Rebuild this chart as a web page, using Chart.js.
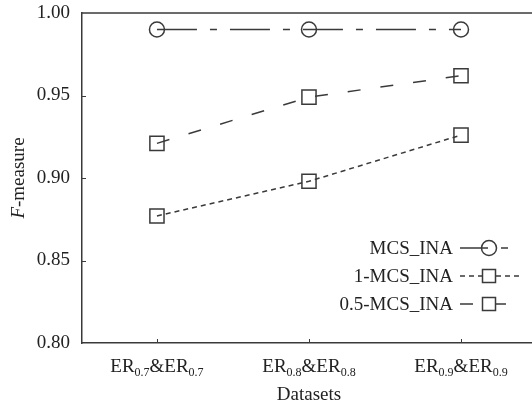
<!DOCTYPE html>
<html>
<head>
<meta charset="utf-8">
<script src="https://cdn.jsdelivr.net/npm/chart.js@4/dist/chart.umd.min.js"></script>
<style>
  html, body { margin: 0; padding: 0; background: #fff; }
  #wrap { width: 532px; height: 407px; }
</style>
</head>
<body>
<div id="wrap"><canvas id="chart" width="532" height="407"></canvas></div>
<script>
// data
const datasetsCat = [
  { base: 'ER', sub: '0.7' },
  { base: 'ER', sub: '0.8' },
  { base: 'ER', sub: '0.9' }
];
const seriesNames = ['MCS_INA', '1-MCS_INA', '0.5-MCS_INA'];
const mcsIna = [0.990, 0.990, 0.990];
const mcsIna1 = [0.877, 0.898, 0.926];
const mcsIna05 = [0.921, 0.949, 0.962];
const yTicks = [0.80, 0.85, 0.90, 0.95, 1.00];

const INK = '#3a3a3a';
const TXT = '#222';
const SERIF = '"Liberation Serif", "Times New Roman", serif';

const styles = [
  { dash: [40, 13, 7, 13], point: 'circle', radius: 7.5 },
  { dash: [5, 4], point: 'rect', radius: 10 },
  { dash: [13, 20], point: 'rect', radius: 10 }
];
const seriesData = [mcsIna, mcsIna1, mcsIna05];

const toXY = arr => arr.map((v, i) => ({ x: i, y: v }));

// axes, inner ticks, subscript labels, titles, legend
const decorations = {
  id: 'decorations',
  afterDraw(chart) {
    const { ctx, chartArea: a, scales: { x, y } } = chart;
    ctx.save();
    ctx.strokeStyle = INK;
    ctx.lineWidth = 1.5;
    // top frame line
    ctx.beginPath();
    ctx.moveTo(a.left, a.top);
    ctx.lineTo(a.right, a.top);
    ctx.stroke();
    // inner ticks
    ctx.lineWidth = 1;
    ctx.beginPath();
    yTicks.slice(1, -1).forEach(t => {
      const py = Math.round(y.getPixelForValue(t)) + 0.5;
      ctx.moveTo(a.left, py);
      ctx.lineTo(a.left + 4, py);
    });
    datasetsCat.forEach((c, i) => {
      const px = Math.round(x.getPixelForValue(i)) + 0.5;
      ctx.moveTo(px, a.bottom);
      ctx.lineTo(px, a.bottom - 4);
    });
    ctx.stroke();

    // x labels with subscripts
    ctx.fillStyle = TXT;
    ctx.textBaseline = 'alphabetic';
    datasetsCat.forEach((c, i) => {
      const parts = [
        [c.base, 19, 0], [c.sub, 12, 4], ['&' + c.base, 19, 0], [c.sub, 12, 4]
      ];
      let w = 0;
      parts.forEach(p => { ctx.font = p[1] + 'px ' + SERIF; w += ctx.measureText(p[0]).width; });
      let px = x.getPixelForValue(i) - w / 2;
      parts.forEach(p => {
        ctx.font = p[1] + 'px ' + SERIF;
        ctx.textAlign = 'left';
        ctx.fillText(p[0], px, a.bottom + 29 + p[2]);
        px += ctx.measureText(p[0]).width;
      });
    });

    // axis titles
    ctx.font = '19px ' + SERIF;
    ctx.textAlign = 'center';
    ctx.fillText('Datasets', x.getPixelForValue(1), a.bottom + 57);

    ctx.save();
    ctx.translate(24, (a.top + a.bottom) / 2);
    ctx.rotate(-Math.PI / 2);
    ctx.font = 'italic 19px ' + SERIF;
    const fW = ctx.measureText('F').width;
    ctx.font = '19px ' + SERIF;
    const restW = ctx.measureText('-measure').width;
    let sx = -(fW + restW) / 2;
    ctx.textAlign = 'left';
    ctx.font = 'italic 19px ' + SERIF;
    ctx.fillText('F', sx, 0);
    ctx.font = '19px ' + SERIF;
    ctx.fillText('-measure', sx + fW, 0);
    ctx.restore();

    // legend
    const rowsY = [248, 276, 304];
    const textRight = 453;
    const sampleL = 460;
    const sampleR = 520;
    const markX = 489;
    seriesNames.forEach((name, i) => {
      const ly = rowsY[i];
      ctx.fillStyle = TXT;
      ctx.font = '19px ' + SERIF;
      ctx.textAlign = 'right';
      ctx.textBaseline = 'middle';
      ctx.fillText(name, textRight, ly + 1);

      ctx.strokeStyle = INK;
      ctx.lineWidth = 1.5;
      ctx.setLineDash(styles[i].dash);
      ctx.beginPath();
      if (i === 2) {
        ctx.lineDashOffset = 0;
        ctx.moveTo(sampleL, ly);
        ctx.lineTo(507, ly);
      } else if (i === 0) {
        ctx.lineDashOffset = 12;
        ctx.moveTo(sampleL, ly);
        ctx.lineTo(sampleR, ly);
      } else {
        ctx.lineDashOffset = 0;
        ctx.moveTo(sampleL, ly);
        ctx.lineTo(sampleR, ly);
      }
      ctx.stroke();
      ctx.setLineDash([]);
      ctx.beginPath();
      if (styles[i].point === 'circle') {
        ctx.arc(markX, ly, 7.5, 0, Math.PI * 2);
      } else {
        ctx.rect(markX - 6.5, ly - 6.5, 13, 13);
      }
      ctx.fillStyle = '#fff';
      if (i !== 0) ctx.fill();
      ctx.stroke();
    });
    ctx.restore();
  }
};

new Chart(document.getElementById('chart'), {
  type: 'line',
  data: {
    datasets: seriesNames.map((name, i) => ({
      label: name,
      data: toXY(seriesData[i]),
      borderColor: INK,
      borderWidth: 1.5,
      borderDash: styles[i].dash,
      pointStyle: styles[i].point,
      pointRadius: styles[i].radius,
      pointBorderColor: INK,
      pointBorderWidth: 1.5,
      pointBackgroundColor: 'rgba(0,0,0,0)',
      tension: 0,
      fill: false
    }))
  },
  options: {
    responsive: false,
    animation: false,
    events: [],
    layout: { autoPadding: false, padding: { top: 13, right: 0, left: 0, bottom: 0 } },
    plugins: { legend: { display: false }, tooltip: { enabled: false } },
    scales: {
      x: {
        type: 'linear',
        min: -0.493,
        max: 2.467,
        grid: { display: false, drawTicks: false },
        border: { display: true, color: INK, width: 1.5 },
        ticks: { display: false },
        afterFit: s => { s.height = 64; s.paddingLeft = 0; s.paddingRight = 0; }
      },
      y: {
        min: 0.80,
        max: 1.00,
        grid: { display: false, drawTicks: false },
        border: { display: true, color: INK, width: 1.5 },
        afterBuildTicks: s => { s.ticks = yTicks.map(v => ({ value: v })); },
        ticks: {
          padding: 12,
          color: TXT,
          font: { family: SERIF, size: 19 },
          callback: v => v.toFixed(2)
        },
        afterFit: s => { s.width = 82; s.paddingTop = 0; s.paddingBottom = 0; }
      }
    }
  },
  plugins: [decorations]
});
</script>
</body>
</html>
